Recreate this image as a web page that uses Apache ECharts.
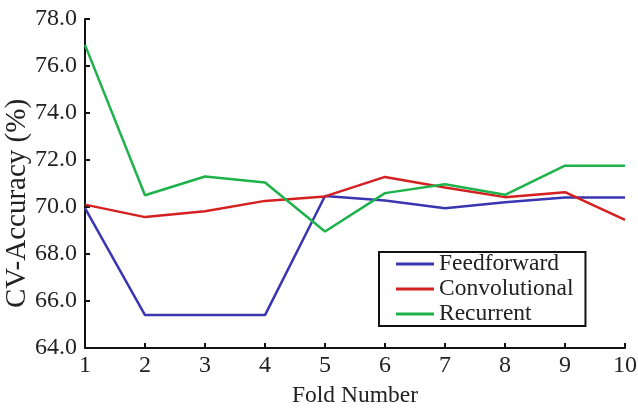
<!DOCTYPE html>
<html><head><meta charset="utf-8">
<script src="https://cdn.jsdelivr.net/npm/echarts@6/dist/echarts.min.js"></script>
<style>html,body{margin:0;padding:0;background:#fff}#c{width:638px;height:410px}</style>
</head><body><div id="c"></div>
<script>
var folds = ['1','2','3','4','5','6','7','8','9','10'];
var feedforward = [69.95, 65.4, 65.4, 65.4, 70.47, 70.28, 69.95, 70.2, 70.4, 70.4];
var convolutional = [70.1, 69.57, 69.82, 70.26, 70.45, 71.28, 70.83, 70.42, 70.63, 69.45];
var recurrent = [76.9, 70.5, 71.3, 71.04, 68.96, 70.59, 70.97, 70.52, 71.76, 71.76];
var yTicks = [64, 66, 68, 70, 72, 74, 76, 78];

var font = 'Liberation Serif, Times New Roman, serif';
var chart = echarts.init(document.getElementById('c'), null, {renderer:'canvas'});
function mk(name, data, color){
  return {name:name, type:'line', data:data, symbol:'none', smooth:false,
    lineStyle:{color:color, width:2.5}, itemStyle:{color:color}};
}
chart.setOption({
  animation:false,
  backgroundColor:'#fff',
  grid:{left:85, right:13, top:19, bottom:62, containLabel:false, outerBoundsMode:'none'},
  legend:{
    orient:'vertical', left:379, top:252,
    icon:'rect', itemWidth:38, itemHeight:3, itemGap:1,
    borderColor:'#111', borderWidth:2, padding:[0,12,0,17],
    textStyle:{fontFamily:font, fontSize:23.5, color:'#222'},
    data:['Feedforward','Convolutional','Recurrent']
  },
  xAxis:{
    type:'category', data:folds, boundaryGap:false,
    name:'Fold Number', nameLocation:'middle', nameGap:36, nameMoveOverlap:false,
    nameTextStyle:{fontFamily:font, fontSize:23.5, color:'#222'},
    axisLine:{lineStyle:{color:'#111', width:2}},
    axisTick:{inside:true, length:5, lineStyle:{color:'#111', width:2}, alignWithLabel:true},
    axisLabel:{fontFamily:font, fontSize:24, color:'#222', margin:6},
    splitLine:{show:false}
  },
  yAxis:{
    type:'value', min:yTicks[0], max:yTicks[yTicks.length-1], interval:2,
    name:'CV-Accuracy (%)', nameLocation:'middle', nameGap:53, nameMoveOverlap:false,
    nameTextStyle:{fontFamily:font, fontSize:29, color:'#222', padding:[0,40,0,0]},
    axisLine:{show:true, lineStyle:{color:'#111', width:2}},
    axisTick:{show:true, inside:true, length:5, lineStyle:{color:'#111', width:2}},
    axisLabel:{fontFamily:font, fontSize:24, color:'#222', margin:8,
      formatter:function(v){return v.toFixed(1);}},
    splitLine:{show:false}
  },
  series:[
    mk('Feedforward', feedforward, '#3a35b0'),
    mk('Convolutional', convolutional, '#d42020'),
    mk('Recurrent', recurrent, '#1db34a')
  ]
});
</script></body></html>
